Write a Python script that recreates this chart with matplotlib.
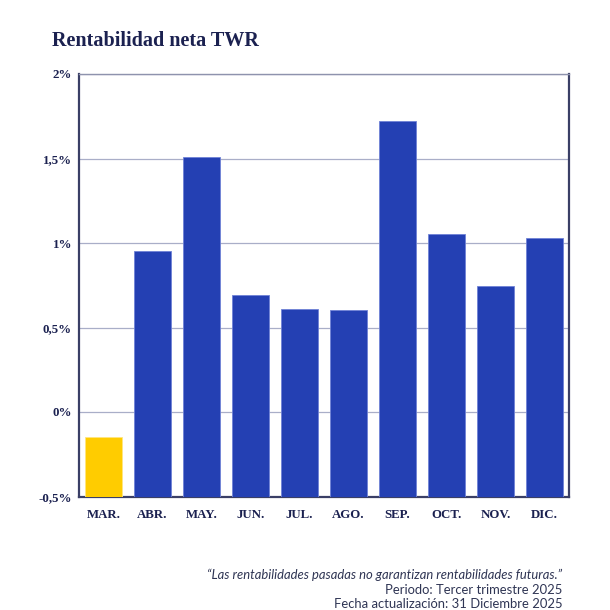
"""Rentabilidad neta TWR - monthly bar chart."""

import matplotlib.pyplot as plt
import numpy as np
from matplotlib.ticker import FuncFormatter

plt.switch_backend("Agg")

months = ["MAR.", "ABR.", "MAY.", "JUN.", "JUL.", "AGO.", "SEP.", "OCT.", "NOV.", "DIC."]
twr = [-0.148, 0.953, 1.509, 0.692, 0.609, 0.604, 1.722, 1.055, 0.746, 1.03]
yticks = [-0.5, 0.0, 0.5, 1.0, 1.5, 2.0]

NAVY = "#1b2150"
BLUE = "#2440b3"
YELLOW = "#ffcc00"
SERIF = ["Liberation Serif", "DejaVu Serif"]


def pct(v, _pos):
    s = f"{v:g}".replace(".", ",")
    return s + "%"


fig = plt.figure(figsize=(6.1, 6.1), dpi=100)
ax = fig.add_axes([79 / 610, 1 - 496.5 / 610, 490 / 610, 422.5 / 610])

# bars grow from the bottom of the axis, not from zero
base = yticks[0]
x = np.arange(len(months))
heights = [v - base for v in twr]
colors = [YELLOW if v < 0 else BLUE for v in twr]
edges = ["#ffe680" if v < 0 else "#6f82d6" for v in twr]
ax.bar(x, heights, bottom=base, width=0.735, color=colors, edgecolor=edges,
       linewidth=0.6, zorder=3)

ax.set_xlim(-0.5, len(months) - 0.5)
ax.set_ylim(yticks[0], yticks[-1])
ax.set_yticks(yticks)
ax.yaxis.set_major_formatter(FuncFormatter(pct))
ax.set_xticks(x, months)
ax.grid(axis="y", color="#a9aec8", linewidth=0.9, zorder=0)
ax.tick_params(length=0, colors=NAVY)
ax.tick_params(axis="y", pad=5)
ax.tick_params(axis="x", pad=9)
for lab in ax.get_xticklabels() + ax.get_yticklabels():
    lab.set_family(SERIF)
    lab.set_fontweight("bold")
    lab.set_fontsize(9.3)

for side in ["left", "bottom", "right"]:
    ax.spines[side].set_color("#3a3f66")
    ax.spines[side].set_linewidth(1.6)
ax.spines["top"].set_color("#8e93ad")
ax.spines["top"].set_linewidth(1.0)

fig.text(52 / 610, 1 - 41 / 610, "Rentabilidad neta TWR", family=SERIF,
         fontweight="bold", fontsize=14.5, color=NAVY, va="center", ha="left")

foot_x = 562 / 610
foot_col = "#2f3554"
fig.text(foot_x, 1 - 575 / 610,
         "\u201cLas rentabilidades pasadas no garantizan rentabilidades futuras.\u201d",
         family="Lato", style="italic", fontsize=9.4, color=foot_col, ha="right", va="center")
fig.text(foot_x, 1 - 590 / 610, "Periodo: Tercer trimestre 2025",
         family="Lato", fontsize=9.4, color=foot_col, ha="right", va="center")
fig.text(foot_x, 1 - 604 / 610, "Fecha actualización: 31 Diciembre 2025",
         family="Lato", fontsize=9.4, color=foot_col, ha="right", va="center")

fig.savefig("out.png", dpi=100)
plt.close(fig)
